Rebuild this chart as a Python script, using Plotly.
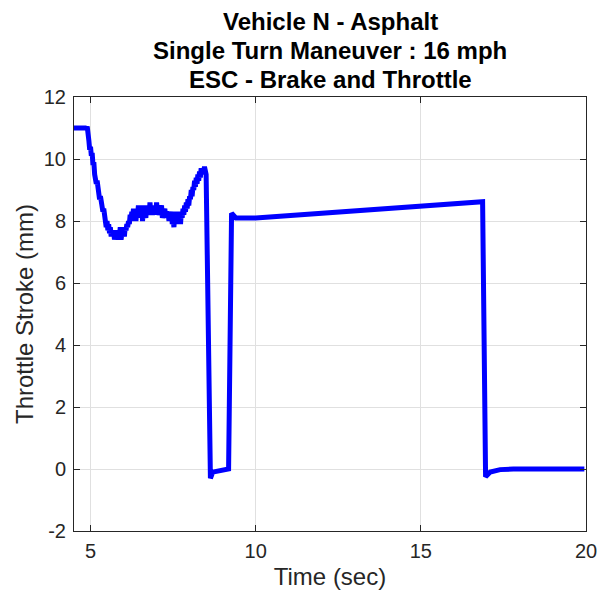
import plotly.graph_objects as go

# Throttle stroke trace (time in s, stroke in mm)
time_s = [4.5, 4.88,
          4.900, 4.925, 4.950, 4.975, 5.000, 5.025, 5.050, 5.075, 5.100, 5.125, 5.150, 5.175,
          5.200, 5.225, 5.250, 5.275, 5.300, 5.325, 5.350, 5.375, 5.400, 5.425, 5.450, 5.475,
          5.500, 5.525, 5.550, 5.575, 5.600, 5.625, 5.650, 5.675, 5.700, 5.725, 5.750, 5.775,
          5.800, 5.825, 5.850, 5.875, 5.900, 5.925, 5.950, 5.975, 6.000, 6.025, 6.050, 6.075,
          6.100, 6.125, 6.150, 6.175, 6.200, 6.225, 6.250, 6.275, 6.300, 6.325, 6.350, 6.375,
          6.400, 6.425, 6.450, 6.475, 6.500, 6.525, 6.550, 6.575, 6.600, 6.625, 6.650, 6.675,
          6.700, 6.725, 6.750, 6.775, 6.800, 6.825, 6.850, 6.875, 6.900, 6.925, 6.950, 6.975,
          7.000, 7.025, 7.050, 7.075, 7.100, 7.125, 7.150, 7.175, 7.200, 7.225, 7.250, 7.275,
          7.300, 7.325, 7.350, 7.375, 7.400, 7.425, 7.450, 7.475, 7.500, 7.525, 7.550, 7.575,
          7.600, 7.625, 7.650, 7.675, 7.700, 7.725, 7.750, 7.775, 7.800, 7.825, 7.850, 7.875,
          7.900, 7.925, 7.950, 7.975, 8.000, 8.025, 8.050, 8.075, 8.100, 8.125, 8.150, 8.175,
          8.200, 8.225, 8.250, 8.275, 8.300, 8.325, 8.350, 8.375, 8.400, 8.425, 8.450, 8.475,
          8.500,
          8.63, 8.70, 9.18, 9.27, 9.40, 10.0, 16.87, 16.96, 17.1, 17.4, 17.8, 19.95]
stroke_mm = [11.0, 11.0,
             11.05, 10.9, 10.6, 10.3, 10.4, 10.1, 10.2, 9.8, 9.9, 9.5, 9.4, 9.2,
             9.3, 8.9, 9.0, 8.7, 8.8, 8.5, 8.6, 8.3, 8.4, 8.0, 8.1, 7.8,
             8.0, 7.7, 7.9, 7.6, 7.8, 7.5, 7.7, 7.5, 7.7, 7.4, 7.6, 7.5,
             7.7, 7.4, 7.6, 7.5, 7.8, 7.4, 7.6, 7.5, 7.7, 7.5, 7.8, 7.7,
             7.9, 7.8, 8.0, 7.9, 8.2, 8.0, 8.3, 8.1, 8.4, 8.1, 8.3, 8.0,
             8.4, 8.2, 8.5, 8.1, 8.4, 8.2, 8.5, 8.0, 8.4, 8.2, 8.3, 8.1,
             8.5, 8.2, 8.4, 8.2, 8.6, 8.3, 8.5, 8.2, 8.4, 8.3, 8.5, 8.2,
             8.6, 8.3, 8.4, 8.2, 8.4, 8.3, 8.5, 8.1, 8.3, 8.2, 8.4, 8.1,
             8.3, 8.2, 8.3, 8.0, 8.2, 8.1, 8.3, 7.9, 8.1, 7.8, 8.2, 8.0,
             8.3, 7.9, 8.2, 8.0, 8.3, 7.9, 8.3, 8.1, 8.4, 8.2, 8.5, 8.3,
             8.6, 8.4, 8.7, 8.5, 8.8, 8.7, 9.0, 8.8, 9.1, 9.0, 9.3, 9.1,
             9.4, 9.2, 9.5, 9.3, 9.6, 9.4, 9.7, 9.5, 9.7, 9.6, 9.75, 9.6,
             9.5,
             -0.3, -0.1, 0.0, 8.25, 8.1, 8.1, 8.62, -0.25, -0.1, -0.02, 0.0, 0.0]

x_ticks = [5, 10, 15, 20]
y_ticks = [-2, 0, 2, 4, 6, 8, 10, 12]
y_tick_labels = ["-2", "0", "2", "4", "6", "8", "10", "12"]
title_lines = ["Vehicle N - Asphalt", "Single Turn Maneuver : 16 mph", "ESC - Brake and Throttle"]

fig = go.Figure()
fig.add_trace(go.Scatter(x=time_s, y=stroke_mm, mode="lines",
                         line=dict(color="#0000FF", width=5), showlegend=False))

font_family = "Liberation Sans, Arial, sans-serif"
axis_common = dict(showline=True, linecolor="#262626", linewidth=1, mirror="ticks",
                   ticks="inside", ticklen=6, tickcolor="#262626", tickwidth=1,
                   showgrid=True, gridcolor="#e0e0e0", gridwidth=1, zeroline=False,
                   tickfont=dict(family=font_family, size=20, color="#262626"))

fig.update_layout(
    width=604, height=592,
    paper_bgcolor="white", plot_bgcolor="white",
    margin=dict(l=66, r=26, t=89, b=69, autoexpand=False),
    xaxis=dict(range=[4.5, 20], tickvals=x_ticks, ticklabelstandoff=2,
               title=dict(text="Time (sec)", font=dict(family=font_family, size=24, color="#262626"),
                          standoff=7),
               **axis_common),
    yaxis=dict(range=[-2, 12], tickvals=y_ticks, ticktext=y_tick_labels, ticklabelstandoff=3,
               title=dict(text="Throttle Stroke (mm)", font=dict(family=font_family, size=24, color="#262626"),
                          standoff=3),
               **axis_common),
)

title_shifts = [76, 47, 18]
for line, shift in zip(title_lines, title_shifts):
    fig.add_annotation(text="<b>" + line + "</b>", x=0.5, xref="paper", y=1, yref="paper",
                       xanchor="center", yanchor="middle", yshift=shift, showarrow=False,
                       font=dict(family=font_family, size=24, color="black"))

fig.write_html("out.html")
